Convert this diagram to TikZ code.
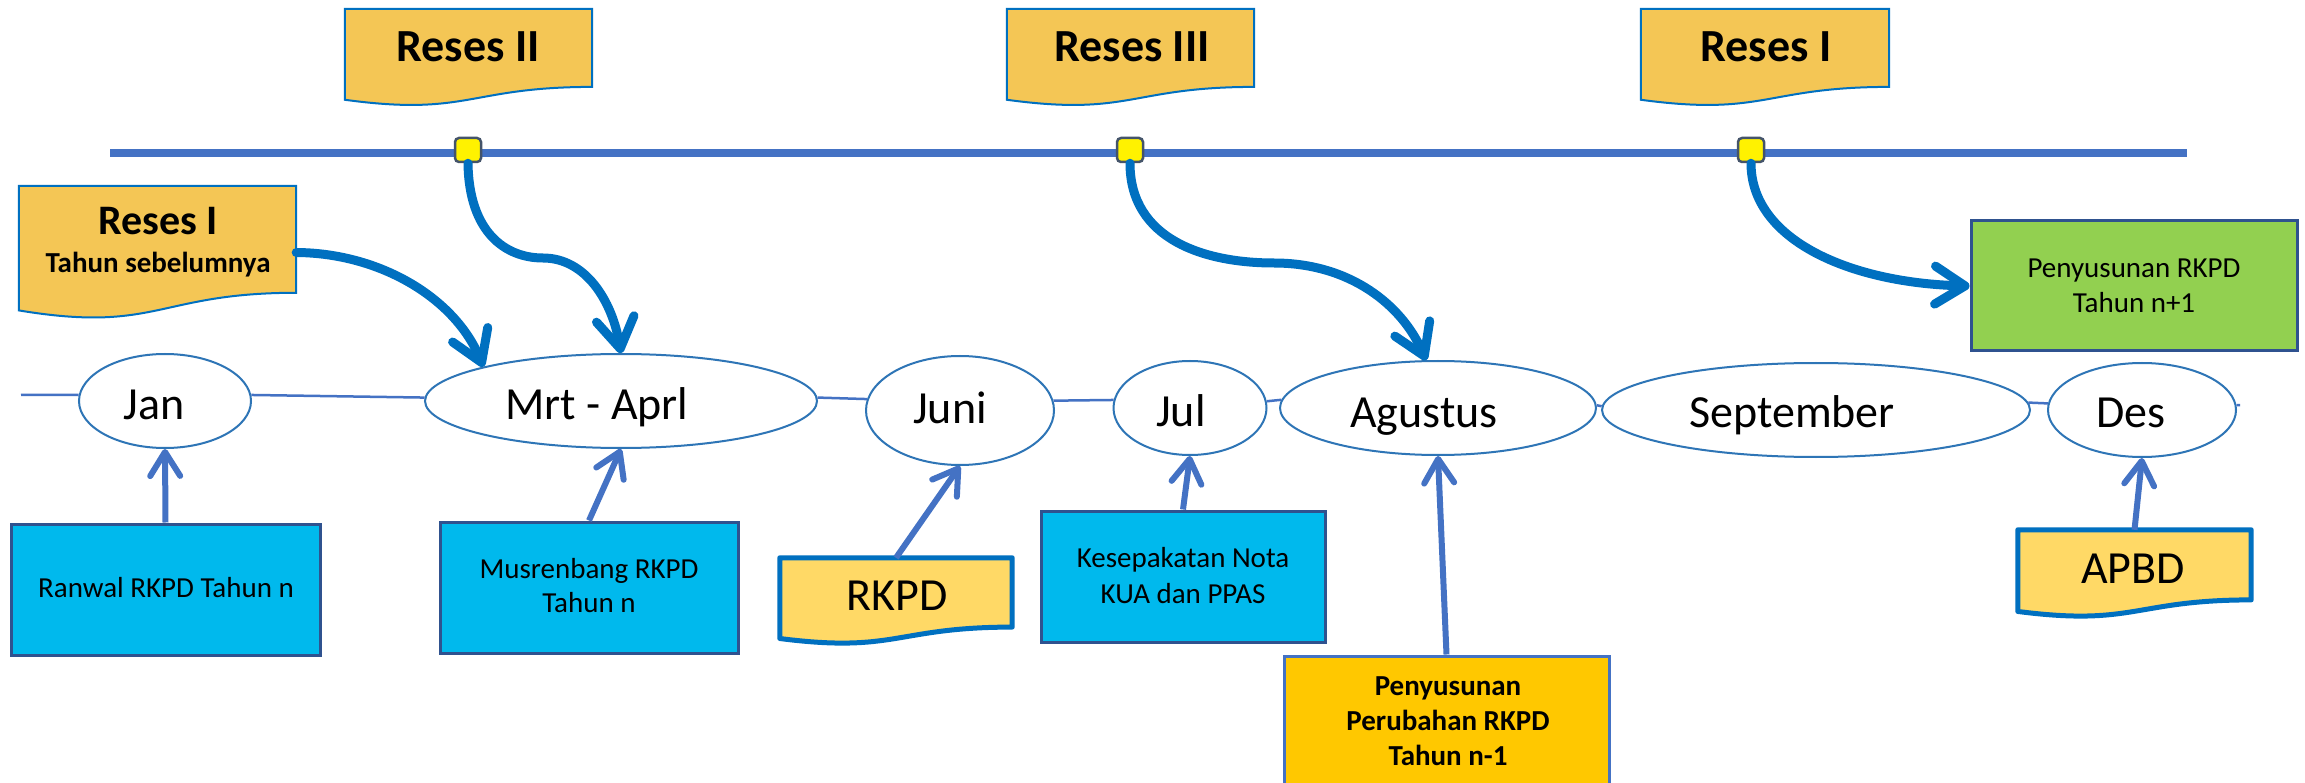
\documentclass[tikz,border=0pt]{standalone}
\usepackage{fontspec}
\setmainfont{Carlito}
\usetikzlibrary{arrows.meta,shapes.geometric,calc}

\definecolor{resesfill}{HTML}{F4C655}
\definecolor{docblue}{HTML}{0070C0}
\definecolor{docfill}{HTML}{FFD966}
\definecolor{boxblue}{HTML}{00B9ED}
\definecolor{boxedge}{HTML}{2F528F}
\definecolor{linkblue}{HTML}{4472C4}
\definecolor{ellblue}{HTML}{2E75B6}
\definecolor{greenfill}{HTML}{92D050}
\definecolor{orangefill}{HTML}{FFC800}
\definecolor{sqedge}{HTML}{44546A}

\newcommand\docshape[2]{%
  \path[#2] (#1.north west) -- (#1.north east)
    -- ($(#1.north east)!0.802!(#1.south east)$)
    .. controls ($(#1.north)!0.802!(#1.south)$) and ($(#1.north)!1.107!(#1.south)$)
    .. ($(#1.north west)!0.934!(#1.south west)$) -- cycle;}

\tikzset{
  month/.style={ellipse, draw=ellblue, line width=2pt, fill=white, inner sep=0pt},
  mtext/.style={anchor=base, font=\fontsize{46}{55}\selectfont, inner sep=0pt},
  framebox/.style={rectangle, inner sep=0pt, line width=3pt, draw=boxedge},
  btext/.style={anchor=base, font=\fontsize{29}{35}\selectfont, inner sep=0pt},
  bbold/.style={anchor=base, font=\bfseries\fontsize{29}{35}\selectfont, inner sep=0pt},
  rtitle/.style={anchor=base, font=\bfseries\fontsize{46}{55}\selectfont, inner sep=0pt},
  doctext/.style={anchor=base, font=\fontsize{46}{55}\selectfont, inner sep=0pt},
  docbox/.style={rectangle, inner sep=0pt},
  marker/.style={rectangle, rounded corners=4pt, draw=sqedge, fill=yellow, line width=2.5pt,
    minimum width=26pt, minimum height=24pt, inner sep=0pt},
  bigarrow/.style={draw=docblue, line width=9pt, line cap=round,
    -{Straight Barb[length=30pt,width=38pt,round]}},
  smallarrow/.style={draw=linkblue, line width=6pt,
    -{Straight Barb[length=24pt,width=30pt,round]}},
  monthline/.style={draw=linkblue, line width=2.5pt},
  topline/.style={draw=linkblue, line width=8pt},
  resesdoc/.style={fill=resesfill, draw=docblue, line width=2pt},
  outdoc/.style={fill=docfill, draw=docblue, line width=5pt, line join=round}
}

\begin{document}
\begin{tikzpicture}[x=1pt,y=-1pt]
\useasboundingbox (0,0) rectangle (2305,783);
\fill[white] (0,0) rectangle (2305,783);

% ---------- top time line ----------
\coordinate (tl0) at (110,153);
\coordinate (tl1) at (2187,153);
\draw[topline] (tl0) -- (tl1);
\node[marker] (sq2) at (468,150) {};
\node[marker] (sq3) at (1130,150) {};
\node[marker] (sq1) at (1751,150) {};

% ---------- Reses documents ----------
\node[docbox, minimum width=247pt, minimum height=97pt] (r2) at (468.5,57.5) {};
\docshape{r2}{resesdoc}
\node[rtitle] (r2t) at (468,62) {Reses II};

\node[docbox, minimum width=247pt, minimum height=97pt] (r3) at (1130.5,57.5) {};
\docshape{r3}{resesdoc}
\node[rtitle] (r3t) at (1132,62) {Reses III};

\node[docbox, minimum width=248pt, minimum height=97pt] (r1) at (1765,57.5) {};
\docshape{r1}{resesdoc}
\node[rtitle] (r1t) at (1766,62) {Reses I};

\node[docbox, minimum width=277pt, minimum height=133pt] (r0) at (157.5,252.5) {};
\docshape{r0}{resesdoc}
\node[anchor=base, font=\bfseries\fontsize{42}{50}\selectfont, inner sep=0pt] (r0t) at (158,235) {Reses I};
\node[bbold] (r0s) at (158,273) {Tahun sebelumnya};

% ---------- months ----------
\node[month, minimum width=172pt, minimum height=94pt] (jan) at (165,401) {};
\node[month, minimum width=392pt, minimum height=94pt] (mrt) at (621,401) {};
\node[month, minimum width=188pt, minimum height=109pt] (juni) at (960,410.5) {};
\node[month, minimum width=153pt, minimum height=94pt] (jul) at (1190,408) {};
\node[month, minimum width=316pt, minimum height=94pt] (agu) at (1438,408) {};
\node[month, minimum width=428pt, minimum height=94pt] (sep) at (1816,410) {};
\node[month, minimum width=188pt, minimum height=94pt] (des) at (2142,410) {};

\coordinate (ml0) at (21,395);
\coordinate (ml1) at (2240,405);
\draw[monthline] (ml0) -- (jan.176);
\draw[monthline] (jan.4) -- (mrt.179);
\draw[monthline] (mrt.1) -- (juni.173);
\draw[monthline] (juni.6) -- (jul.174);
\draw[monthline] (jul.5) -- (agu.177);
\draw[monthline] (agu.1) -- (sep.179);
\draw[monthline] (sep.2) -- (des.176);
\draw[monthline] (des.3) -- (ml1);

\node[mtext] (jant) at (154,420) {Jan};
\node[mtext] (mrtt) at (597,420) {Mrt - Aprl};
\node[mtext] (junit) at (950,423) {Juni};
\node[mtext] (jult) at (1181,427) {Jul};
\node[mtext] (agut) at (1424,428) {Agustus};
\node[mtext] (sept) at (1792,428) {September};
\node[mtext] (dest) at (2131,428) {Des};

% ---------- lower boxes ----------
\node[framebox, fill=boxblue, minimum width=309pt, minimum height=131pt] (ranwal) at (165.5,589.5) {};
\node[btext] (ranwalt) at (166,597) {Ranwal RKPD Tahun n};

\node[framebox, fill=boxblue, minimum width=298pt, minimum height=131pt] (musren) at (589,587.5) {};
\node[btext] (musrent1) at (589,578) {Musrenbang RKPD};
\node[btext] (musrent2) at (589,612) {Tahun n};

\node[docbox, minimum width=232pt, minimum height=86pt] (rkpd) at (896,601) {};
\docshape{rkpd}{outdoc}
\node[doctext] (rkpdt) at (897,610) {RKPD};

\node[framebox, fill=boxblue, minimum width=284pt, minimum height=131pt] (kes) at (1183,576.5) {};
\node[btext] (kest1) at (1183,567) {Kesepakatan Nota};
\node[btext] (kest2) at (1183,603) {KUA dan PPAS};

\node[framebox, draw=linkblue, fill=orangefill, minimum width=325pt, minimum height=144pt] (peny) at (1446.5,728) {};
\node[bbold] (penyt1) at (1448,695) {Penyusunan};
\node[bbold] (penyt2) at (1448,730) {Perubahan RKPD};
\node[bbold] (penyt3) at (1448,765) {Tahun n-1};

\node[docbox, minimum width=233pt, minimum height=87pt] (apbd) at (2134.5,573.5) {};
\docshape{apbd}{outdoc}
\node[doctext] (apbdt) at (2133,583) {APBD};

\node[framebox, fill=greenfill, minimum width=326pt, minimum height=130pt] (green) at (2134,286) {};
\node[btext] (greent1) at (2134,278) {Penyusunan RKPD};
\node[btext] (greent2) at (2134,313) {Tahun n+1};

% ---------- straight arrows ----------
\draw[smallarrow] (ranwal.north) -- (jan.south);
\draw[smallarrow] (musren.north) -- (mrt.south);
\draw[smallarrow] (rkpd.north) -- (juni.south);
\draw[smallarrow] (kes.north) -- (jul.south);
\draw[smallarrow] (peny.north) -- (agu.south);
\draw[smallarrow] (apbd.north) -- (des.south);

% ---------- curved arrows ----------
\coordinate (bmid) at (543,258);
\coordinate (cmid) at (1274,263);
\draw[bigarrow] (r0.east) .. controls (380,253) and (455,298) .. (mrt.166);
\draw[bigarrow] (sq2.south) .. controls (469,232) and (505,258) .. (bmid)
   .. controls (585,258) and (612,300) .. (mrt.north);
\draw[bigarrow] (sq3.south) .. controls (1130,240) and (1205,263) .. (cmid)
   .. controls (1350,263) and (1402,305) .. (agu.104);
\draw[bigarrow] (sq1.south) .. controls (1751,240) and (1850,283) .. (green.west);
\end{tikzpicture}
\end{document}
